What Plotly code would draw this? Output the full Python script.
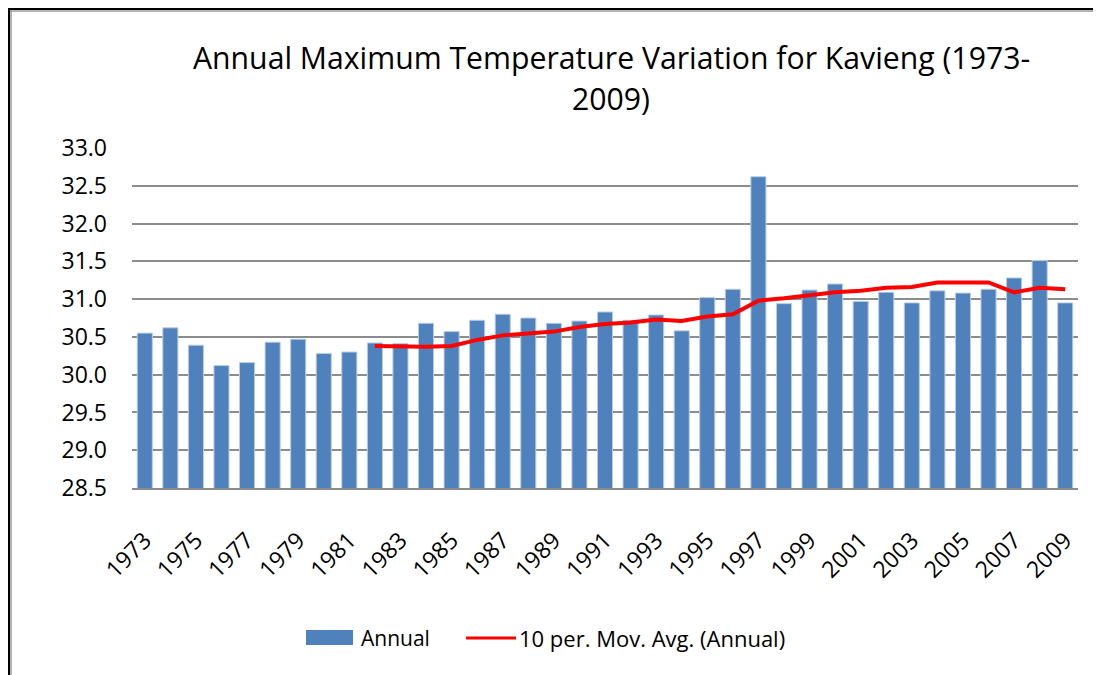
import plotly.graph_objects as go

years = [str(y) for y in range(1973, 2010)]
annual = [30.55, 30.62, 30.39, 30.12, 30.16, 30.43, 30.47, 30.28, 30.30, 30.42,
          30.41, 30.68, 30.57, 30.72, 30.80, 30.75, 30.68, 30.71, 30.83, 30.72,
          30.79, 30.58, 31.02, 31.13, 32.62, 30.94, 31.12, 31.20, 30.97, 31.09,
          30.95, 31.11, 31.08, 31.13, 31.28, 31.51, 30.95]
mov_avg_years = [str(y) for y in range(1982, 2010)]
mov_avg = [30.38, 30.37, 30.37, 30.38, 30.46, 30.52, 30.54, 30.57, 30.63, 30.67,
           30.69, 30.73, 30.71, 30.77, 30.80, 30.98, 31.01, 31.05, 31.09, 31.11,
           31.15, 31.16, 31.22, 31.22, 31.22, 31.09, 31.15, 31.13]
tick_years = [str(y) for y in range(1973, 2010, 2)]
y_ticks = [28.5, 29.0, 29.5, 30.0, 30.5, 31.0, 31.5, 32.0, 32.5, 33.0]

title_line1 = "Annual Maximum Temperature Variation for Kavieng (1973-"
title_line2 = "2009)"
legend_bar = "Annual"
legend_line = "10 per. Mov. Avg. (Annual)"

FONT = "Open Sans"
BLUE = "#4F81BD"
RED = "#FF0000"

OFF = 8  # default body margin of the page
# plot area in screen pixels
L, R, T, B = 132, 1078, 148, 488
W, H = 1101 - OFF, 675 - OFF

def px(x):
    return (x - L) / (R - L)

def py(y):
    return (B - y) / (B - T)

fig = go.Figure()
fig.add_trace(go.Bar(
    x=years, y=annual, name=legend_bar,
    marker=dict(color=BLUE, line=dict(color="#B9CDE5", width=1)),
))
fig.add_trace(go.Scatter(
    x=mov_avg_years, y=mov_avg, name=legend_line, mode="lines",
    line=dict(color=RED, width=4),
))

fig.update_layout(
    width=W, height=H,
    margin=dict(l=L - OFF, r=W - (R - OFF), t=T - OFF, b=H - (B - OFF)),
    paper_bgcolor="white", plot_bgcolor="white",
    showlegend=False,
    bargap=0.41,
    font=dict(family=FONT, color="black"),
)
fig.update_xaxes(
    type="category", categoryorder="array", categoryarray=years,
    tickmode="array", tickvals=tick_years, ticktext=tick_years,
    tickangle=-45, tickfont=dict(size=23, family=FONT),
    showgrid=False, showline=True, linecolor="#8c8c8c", linewidth=1.5,
    ticks="", ticklabelstandoff=28,
)
fig.update_yaxes(
    range=[28.5, 33.0], tickmode="array", tickvals=y_ticks,
    ticktext=[f"{v:.1f}" for v in y_ticks],
    tickfont=dict(size=23, family=FONT),
    showgrid=True, gridcolor="#8c8c8c", gridwidth=1.5,
    showline=False, zeroline=False, ticks="", ticklabelstandoff=24,
)

# title
fig.add_annotation(text=title_line1, xref="paper", yref="paper",
                   x=px(611), y=py(57), showarrow=False,
                   font=dict(size=30.2, family=FONT), xanchor="center", yanchor="middle")
fig.add_annotation(text=title_line2, xref="paper", yref="paper",
                   x=px(611), y=py(98), showarrow=False,
                   font=dict(size=30.2, family=FONT), xanchor="center", yanchor="middle")

# custom legend
fig.add_shape(type="rect", xref="paper", yref="paper",
              x0=px(306), x1=px(353), y0=py(630), y1=py(645),
              fillcolor=BLUE, line=dict(width=0))
fig.add_annotation(text=legend_bar, xref="paper", yref="paper",
                   x=px(359), y=py(638), showarrow=False, xanchor="left", yanchor="middle",
                   font=dict(size=21, family=FONT))
fig.add_shape(type="line", xref="paper", yref="paper",
              x0=px(466), x1=px(516), y0=py(638), y1=py(638),
              line=dict(color=RED, width=3))
fig.add_annotation(text=legend_line, xref="paper", yref="paper",
                   x=px(517), y=py(638), showarrow=False, xanchor="left", yanchor="middle",
                   font=dict(size=22, family=FONT))

# page frame (black outer, gray inner)
fig.add_shape(type="line", xref="paper", yref="paper",
              x0=px(7), x1=px(1101), y0=py(8.5), y1=py(8.5),
              line=dict(color="black", width=3))
fig.add_shape(type="line", xref="paper", yref="paper",
              x0=px(10), x1=px(1101), y0=py(11), y1=py(11),
              line=dict(color="#9a9a9a", width=1.5))
fig.add_shape(type="line", xref="paper", yref="paper",
              x0=px(8.5), x1=px(8.5), y0=py(7), y1=py(675),
              line=dict(color="black", width=3))
fig.add_shape(type="line", xref="paper", yref="paper",
              x0=px(11), x1=px(11), y0=py(10), y1=py(675),
              line=dict(color="#9a9a9a", width=1.5))

fig.write_html("out.html")
